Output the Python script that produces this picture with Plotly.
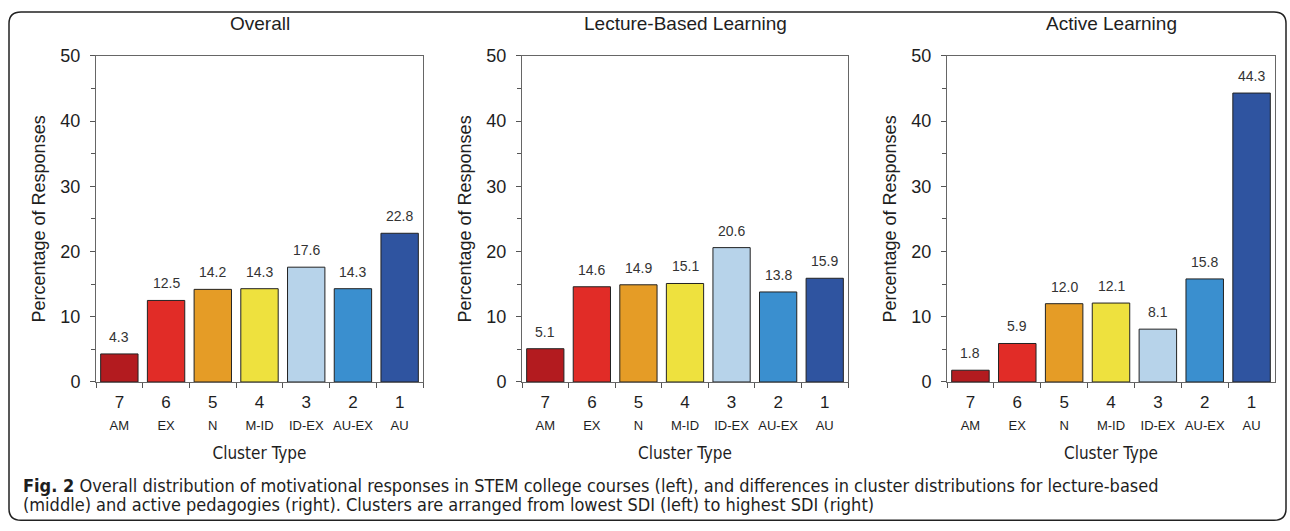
import plotly.graph_objects as go

# cluster categories (lowest SDI -> highest SDI)
cluster_num = ["7", "6", "5", "4", "3", "2", "1"]
cluster_code = ["AM", "EX", "N", "M-ID", "ID-EX", "AU-EX", "AU"]
bar_colors = ["#b31b1f", "#e12c27", "#e59c26", "#eee13e", "#b7d3ea", "#3a8fcf", "#2f54a0"]

overall = [4.3, 12.5, 14.2, 14.3, 17.6, 14.3, 22.8]
lecture = [5.1, 14.6, 14.9, 15.1, 20.6, 13.8, 15.9]
active = [1.8, 5.9, 12.0, 12.1, 8.1, 15.8, 44.3]

panel_titles = ["Overall", "Lecture-Based Learning", "Active Learning"]
caption_1 = ("<b>Fig. 2</b> Overall distribution of motivational responses in STEM college courses "
             "(left), and differences in cluster distributions for lecture-based")
caption_2 = ("(middle) and active pedagogies (right). Clusters are arranged from lowest SDI "
             "(left) to highest SDI (right)")

W, H = 1290, 531
SANS = "Liberation Sans, Arial, sans-serif"
NARROW = "DejaVu Sans Condensed, Liberation Sans Narrow, sans-serif"
INK = "#1e1e1e"


def py(px):
    # pixel row -> paper y (the capture squeezes the page a bit vertically)
    px = min(max((px - 8) / 0.965, 0), H)
    return 1 - px / H


# panel plot-area pixel boxes (left, right); shared top/bottom
panels_px = [(96, 423), (522, 848), (947, 1275)]
top_px, bot_px = 54, 381

cats = [f"{n}<br><span style='font-size:13px'>{c}</span>" for n, c in zip(cluster_num, cluster_code)]

fig = go.Figure()
for i, (vals, title) in enumerate(zip([overall, lecture, active], panel_titles)):
    ax = "" if i == 0 else str(i + 1)
    fig.add_trace(go.Bar(
        x=cats, y=vals, xaxis="x" + ax, yaxis="y" + ax, width=0.8,
        marker=dict(color=bar_colors, line=dict(color="#222222", width=1)),
        showlegend=False, hoverinfo="skip"))
    for c, v in zip(cats, vals):
        fig.add_annotation(x=c, y=v, xref="x" + ax, yref="y" + ax, text=f"{v:.1f}",
                           showarrow=False, yanchor="bottom", yshift=7,
                           font=dict(family=SANS, size=14, color="#333333"))
    l, r = panels_px[i]
    fig.add_annotation(x=(l + r) / 2 / W, y=py(22), xref="paper", yref="paper",
                       text=title, showarrow=False, xanchor="center", yanchor="middle",
                       font=dict(family=SANS, size=19, color=INK))
    dom = [l / W, r / W]
    fig.update_layout(**{
        "xaxis" + ax: dict(domain=dom, anchor="y" + ax, type="category",
                           tickson="boundaries", ticks="outside", ticklen=5,
                           tickcolor="#555555", showline=True, linecolor="#666666",
                           mirror=True, showgrid=False, range=[-0.5, 6.5], tickangle=0,
                           ticklabelstandoff=5,
                           tickfont=dict(family=SANS, size=17, color=INK),
                           title=dict(text="Cluster Type", standoff=14,
                                      font=dict(family=NARROW, size=17, color=INK))),
        "yaxis" + ax: dict(domain=[py(bot_px), py(top_px)], anchor="x" + ax,
                           range=[0, 50], tickvals=[0, 10, 20, 30, 40, 50],
                           ticks="outside", ticklen=5, tickcolor="#555555",
                           minor=dict(tickvals=[5, 15, 25, 35, 45], ticks="outside",
                                      ticklen=4, tickcolor="#555555"),
                           showline=True, linecolor="#666666", mirror=True,
                           showgrid=False, zeroline=False, ticklabelstandoff=6,
                           tickfont=dict(family=SANS, size=18, color=INK),
                           title=dict(text="Percentage of Responses", standoff=10,
                                      font=dict(family=SANS, size=18, color=INK))),
    })

# caption
fig.add_annotation(x=21 / W, y=py(485), xref="paper", yref="paper", text=caption_1,
                   showarrow=False, xanchor="left", yanchor="middle", align="left",
                   font=dict(family=NARROW, size=18, color=INK))
fig.add_annotation(x=21 / W, y=py(504), xref="paper", yref="paper", text=caption_2,
                   showarrow=False, xanchor="left", yanchor="middle", align="left",
                   font=dict(family=NARROW, size=18, color=INK))

# rounded outer frame
x0, y0, x1, y1, rr = 9 / W, py(10), 1286 / W, 0.8 / H, 12
rx, ry = rr / W, rr / H
frame = (f"M {x0},{y1 + ry} L {x0},{y0 - ry} Q {x0},{y0} {x0 + rx},{y0} "
         f"L {x1 - rx},{y0} Q {x1},{y0} {x1},{y0 - ry} "
         f"L {x1},{y1 + ry} Q {x1},{y1} {x1 - rx},{y1} "
         f"L {x0 + rx},{y1} Q {x0},{y1} {x0},{y1 + ry} Z")
fig.add_shape(type="path", path=frame, xref="paper", yref="paper",
              line=dict(color="#222222", width=1.5))

fig.update_layout(width=W, height=H, margin=dict(l=0, r=0, t=0, b=0),
                  paper_bgcolor="white", plot_bgcolor="white", bargap=0.2,
                  font=dict(family=SANS, color=INK))
fig.write_html("out.html", config={"displayModeBar": False},
               post_script=("document.documentElement.style.margin='0';"
                            "document.documentElement.style.overflow='hidden';"
                            "document.body.style.margin='0';"
                            "document.body.style.overflow='hidden';"
                            "var d=document.getElementById('{plot_id}');"
                            "d.style.position='absolute';d.style.top='0';d.style.left='0';"))
